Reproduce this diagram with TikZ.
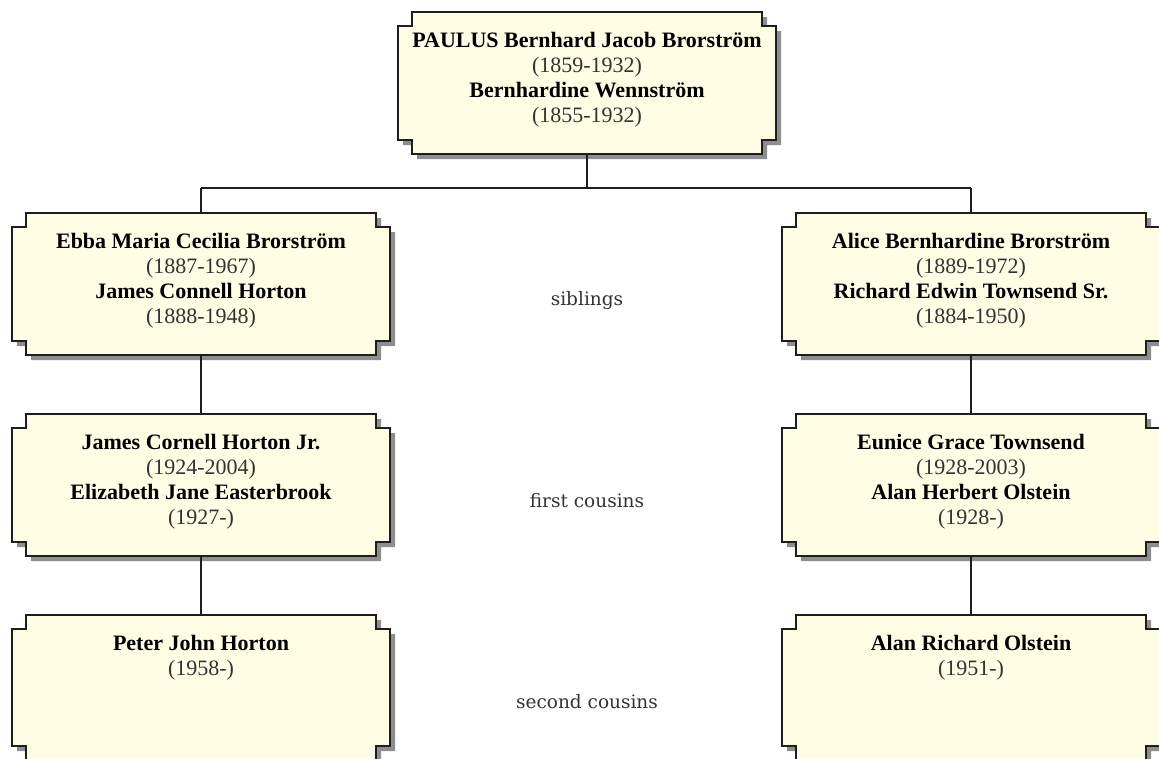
\documentclass[tikz,border=0pt]{standalone}
\usepackage{fontspec}
\setmainfont{Liberation Serif}
\newfontfamily\lblfont{DejaVu Serif}
\definecolor{boxfill}{HTML}{FFFDE4}
\definecolor{shadowc}{HTML}{8E8E8E}
\definecolor{linec}{HTML}{1E1E1E}
\definecolor{yearc}{HTML}{333333}
\definecolor{lblc}{HTML}{333333}
\tikzset{
  boxarea/.style={rectangle, inner sep=0pt, outer sep=0pt, minimum width=378pt},
  boxtext/.style={align=center, inner sep=0pt, font=\fontsize{22}{25}\selectfont, anchor=base},
  lbl/.style={font=\lblfont\fontsize{18.5}{22}\selectfont, text=lblc, anchor=base, inner sep=0pt},
  conn/.style={draw=linec, line width=1.2pt},
  outline/.style={draw=linec, line width=1.4pt, fill=boxfill},
  shade/.style={fill=shadowc},
}
\newcommand\yr[1]{{\color{yearc}#1}}
% #1 name, #2 centre x, #3 top y, #4 bottom y, #5 number of lines, #6 text
\newcommand\fambox[6]{%
  \pgfmathsetmacro\bL{#2-189}%
  \pgfmathsetmacro\bR{#2+189}%
  \fill[shade, shift={(5,5)}] (\bL+14,#3) -- (\bR-14,#3) -- (\bR-14,#3+14) -- (\bR,#3+14) -- (\bR,#4-14) -- (\bR-14,#4-14) -- (\bR-14,#4) -- (\bL+14,#4) -- (\bL+14,#4-14) -- (\bL,#4-14) -- (\bL,#3+14) -- (\bL+14,#3+14) -- cycle;
  \path[outline] (\bL+14,#3) -- (\bR-14,#3) -- (\bR-14,#3+14) -- (\bR,#3+14) -- (\bR,#4-14) -- (\bR-14,#4-14) -- (\bR-14,#4) -- (\bL+14,#4) -- (\bL+14,#4-14) -- (\bL,#4-14) -- (\bL,#3+14) -- (\bL+14,#3+14) -- cycle;
  \pgfmathsetmacro\bH{#4-#3}%
  \node[boxarea, minimum height=\bH pt] (#1) at (#2,{(#3+#4)/2}) {};
  \node[boxtext] (#1-t) at (#2,{#3+35+(#5-1)*25}) {#6};
}
\begin{document}
\begin{tikzpicture}[x=1pt,y=-1pt]
\useasboundingbox (0,0) rectangle (1159,758);
\begin{scope}
\clip (0,0) rectangle (1159,758);
\fambox{paulus}{587}{12}{154}{4}{\textbf{PAULUS Bernhard Jacob Brorström}\\\yr{(1859-1932)}\\\textbf{Bernhardine Wennström}\\\yr{(1855-1932)}}
\fambox{ebba}{201}{213}{355}{4}{\textbf{Ebba Maria Cecilia Brorström}\\\yr{(1887-1967)}\\\textbf{James Connell Horton}\\\yr{(1888-1948)}}
\fambox{alice}{971}{213}{355}{4}{\textbf{Alice Bernhardine Brorström}\\\yr{(1889-1972)}\\\textbf{Richard Edwin Townsend Sr.}\\\yr{(1884-1950)}}
\fambox{james}{201}{414}{556}{4}{\textbf{James Cornell Horton Jr.}\\\yr{(1924-2004)}\\\textbf{Elizabeth Jane Easterbrook}\\\yr{(1927-)}}
\fambox{eunice}{971}{414}{556}{4}{\textbf{Eunice Grace Townsend}\\\yr{(1928-2003)}\\\textbf{Alan Herbert Olstein}\\\yr{(1928-)}}
\fambox{peter}{201}{615}{760}{2}{\textbf{Peter John Horton}\\\yr{(1958-)}}
\fambox{alan}{971}{615}{760}{2}{\textbf{Alan Richard Olstein}\\\yr{(1951-)}}
\end{scope}
\coordinate (bar) at (587,188);
\draw[conn] (paulus.south) -- (paulus.south |- bar);
\draw[conn] (ebba.north |- bar) -- (alice.north |- bar);
\draw[conn] (ebba.north |- bar) -- (ebba.north);
\draw[conn] (alice.north |- bar) -- (alice.north);
\draw[conn] (ebba.south) -- (james.north);
\draw[conn] (alice.south) -- (eunice.north);
\draw[conn] (james.south) -- (peter.north);
\draw[conn] (eunice.south) -- (alan.north);
\node[lbl] (sib) at (587,305) {siblings};
\node[lbl] (fc) at (587,507) {first cousins};
\node[lbl] (sc) at (587,708) {second cousins};
\end{tikzpicture}
\end{document}
